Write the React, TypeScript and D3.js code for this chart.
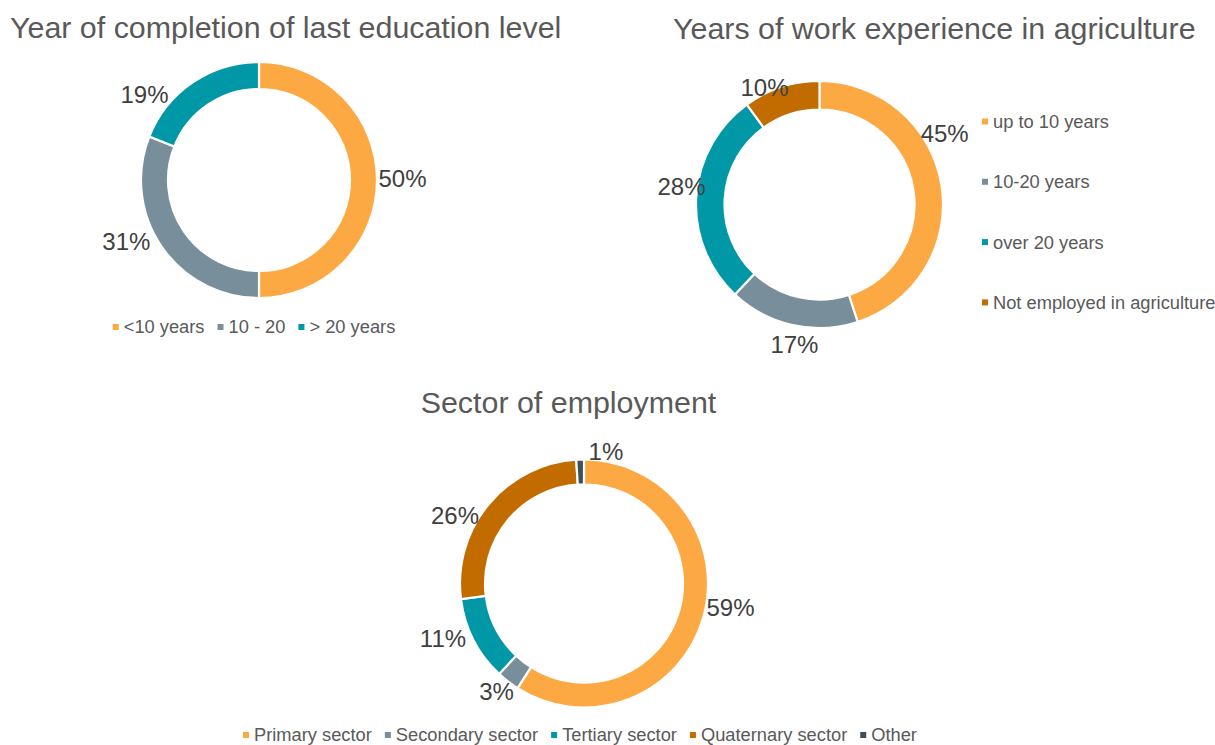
import React, { useEffect, useRef } from "react";
import * as d3 from "d3";

// ---------- data ----------
const eduCategories = ["<10 years", "10 - 20", "> 20 years"];
const eduValues = [50, 31, 19];

const expCategories = ["up to 10 years", "10-20 years", "over 20 years", "Not employed in agriculture"];
const expValues = [45, 17, 28, 10];

const sectorCategories = ["Primary sector", "Secondary sector", "Tertiary sector", "Quaternary sector", "Other"];
const sectorValues = [59, 3, 11, 26, 1];

const titles = [
  "Year of completion of last education level",
  "Years of work experience in agriculture",
  "Sector of employment",
];

// ---------- styles / layout ----------
const palette = ["#FDA943", "#788F9B", "#0098A6", "#C26C00", "#3E505A"];
const FONT = "'Liberation Sans', Arial, Helvetica, sans-serif";
const TITLE_SIZE = 30.4;
const LEGEND_SIZE = 18.3;
const LABEL_SIZE = 24;

type Chart = {
  title: string;
  titleX: number;
  titleY: number;
  titleAnchor: string;
  cats: string[];
  vals: number[];
  cx: number;
  cy: number;
  outer: number;
  inner: number;
  labelNudge: [number, number][]; // [angle shift deg, distance]
  legend: { kind: "row"; cx: number; y: number } | { kind: "col"; x: number; y: number; step: number };
};

const charts: Chart[] = [
  {
    title: titles[0], titleX: 10, titleY: 37.5, titleAnchor: "start",
    cats: eduCategories, vals: eduValues,
    cx: 259, cy: 180, outer: 118, inner: 91,
    labelNudge: [[-0.8, 143.5], [9.5, 146], [-19, 143]],
    legend: { kind: "row", cx: 254, y: 327 },
  },
  {
    title: titles[1], titleX: 673, titleY: 38.5, titleAnchor: "start",
    cats: expCategories, vals: expValues,
    cx: 819.5, cy: 204.5, outer: 123.5, inner: 95,
    labelNudge: [[-20.6, 144], [-2.4, 141.7], [4, 139.2], [-7.1, 129.7]],
    legend: { kind: "col", x: 982, y: 121.5, step: 60.3 },
  },
  {
    title: titles[2], titleX: 568.5, titleY: 413, titleAnchor: "middle",
    cats: sectorCategories, vals: sectorValues,
    cx: 584, cy: 583.5, outer: 124, inner: 99,
    labelNudge: [[-7.1, 148.4], [1.3, 138.6], [5.9, 151.2], [-11.6, 146.1], [11.2, 134.3]],
    legend: { kind: "row", cx: 580, y: 735 },
  },
];

export default function App() {
  const ref = useRef<SVGSVGElement | null>(null);

  useEffect(() => {
    const svg = d3.select(ref.current);
    svg.selectAll("*").remove();

    charts.forEach((c) => {
      const g = svg.append("g");
      g.append("text")
        .attr("x", c.titleX)
        .attr("y", c.titleY)
        .attr("text-anchor", c.titleAnchor)
        .attr("font-family", FONT)
        .attr("font-size", TITLE_SIZE)
        .attr("fill", "#595959")
        .text(c.title);

      const pie = d3.pie<number>().sort(null).value((d) => d).startAngle(0).endAngle(2 * Math.PI);
      const arcs = pie(c.vals);
      const arc = d3.arc<d3.PieArcDatum<number>>().innerRadius(c.inner).outerRadius(c.outer);

      const dg = g.append("g").attr("transform", `translate(${c.cx},${c.cy})`);
      dg.selectAll("path")
        .data(arcs)
        .enter()
        .append("path")
        .attr("d", arc as any)
        .attr("fill", (_d, i) => palette[i])
        .attr("stroke", "#ffffff")
        .attr("stroke-width", 2.2);

      dg.selectAll("text.lbl")
        .data(arcs)
        .enter()
        .append("text")
        .attr("class", "lbl")
        .attr("x", (d, i) => {
          const a = (d.startAngle + d.endAngle) / 2 + (c.labelNudge[i][0] * Math.PI) / 180;
          return Math.sin(a) * c.labelNudge[i][1];
        })
        .attr("y", (d, i) => {
          const a = (d.startAngle + d.endAngle) / 2 + (c.labelNudge[i][0] * Math.PI) / 180;
          return -Math.cos(a) * c.labelNudge[i][1];
        })
        .attr("dy", "0.36em")
        .attr("text-anchor", "middle")
        .attr("font-family", FONT)
        .attr("font-size", LABEL_SIZE)
        .attr("fill", "#404040")
        .text((d) => `${d.data}%`);

      // legend
      const lg = g.append("g");
      const marker = 6;
      const gapText = 5;
      if (c.legend.kind === "col") {
        const L = c.legend;
        c.cats.forEach((cat, i) => {
          const y = L.y + i * L.step;
          lg.append("rect").attr("x", L.x).attr("y", y - marker / 2).attr("width", marker).attr("height", marker).attr("fill", palette[i]);
          lg.append("text")
            .attr("x", L.x + marker + gapText)
            .attr("y", y)
            .attr("dy", "0.35em")
            .attr("font-family", FONT)
            .attr("font-size", LEGEND_SIZE)
            .attr("fill", "#595959")
            .text(cat);
        });
      } else {
        const L = c.legend;
        const items: { t: any; r: any; w: number }[] = [];
        c.cats.forEach((cat, i) => {
          const r = lg.append("rect").attr("width", marker).attr("height", marker).attr("fill", palette[i]).attr("y", L.y - marker / 2);
          const t = lg.append("text")
            .attr("y", L.y)
            .attr("dy", "0.35em")
            .attr("font-family", FONT)
            .attr("font-size", LEGEND_SIZE)
            .attr("fill", "#595959")
            .text(cat);
          const w = (t.node() as SVGTextElement).getComputedTextLength();
          items.push({ t, r, w });
        });
        const itemGap = 13;
        const total = items.reduce((s, it) => s + marker + gapText + it.w, 0) + itemGap * (items.length - 1);
        let x = L.cx - total / 2;
        items.forEach((it) => {
          it.r.attr("x", x);
          it.t.attr("x", x + marker + gapText);
          x += marker + gapText + it.w + itemGap;
        });
      }
    });
  }, []);

  return (
    <svg
      ref={ref}
      width={1215}
      height={745}
      style={{ position: "absolute", left: 0, top: 0, background: "#ffffff" }}
    />
  );
}
